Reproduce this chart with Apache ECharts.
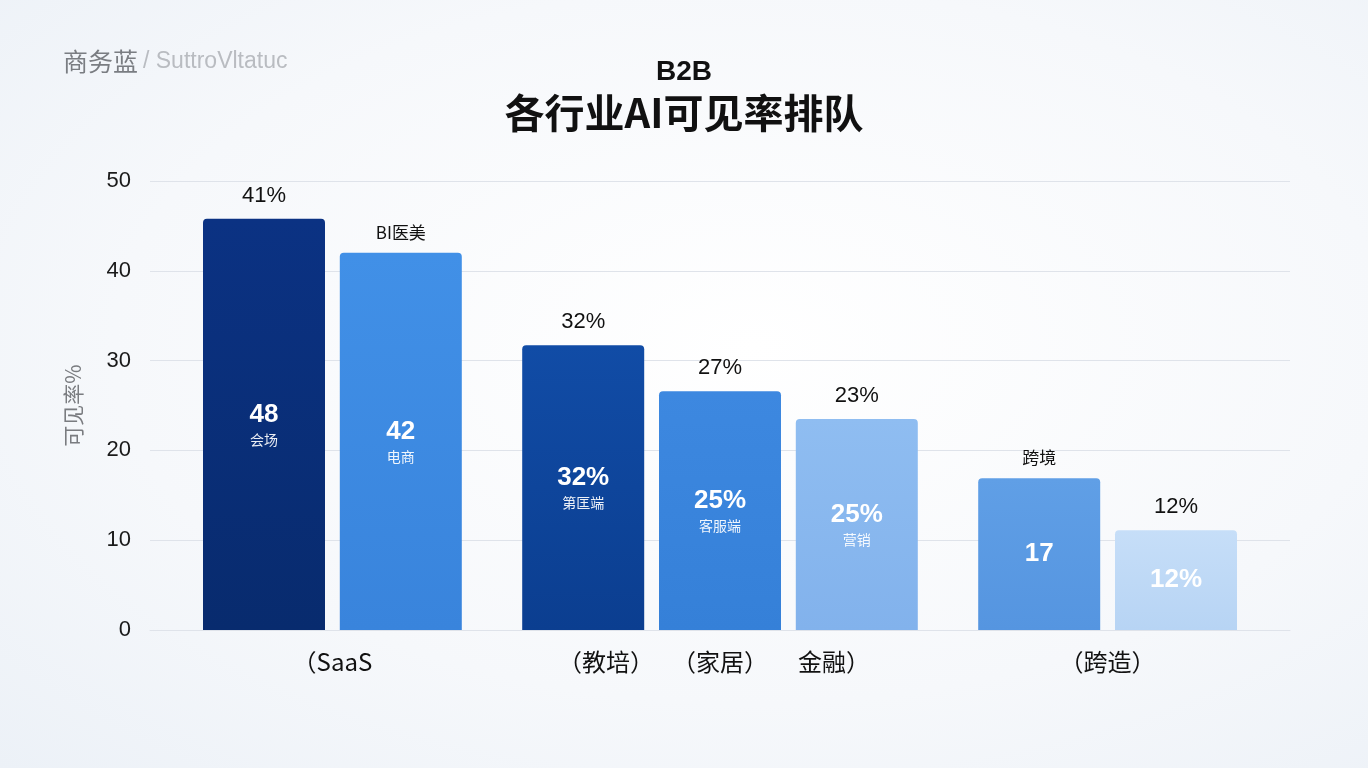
<!DOCTYPE html>
<html lang="zh">

<head>
    <meta charset="UTF-8">
    <meta name="viewport" content="width=device-width, initial-scale=1.0">
    <title>B2B 各行业AI可见率排队</title>
    <script src="https://cdn.jsdelivr.net/npm/echarts@6.0.0/dist/echarts.min.js"></script>
    <style>
        html, body {
            margin: 0;
            padding: 0;
            width: 100%;
            height: 100%;
            background: radial-gradient(ellipse at 55% 45%, #ffffff 0%, #f6f8fb 60%, #ecf1f7 100%);
        }
        #viz {
            width: 1368px;
            height: 768px;
        }
    </style>
</head>

<body>
    <div id="viz"></div>

    <script>
        // values
        const values = [45.8, 42.0, 31.7, 26.6, 23.5, 16.9, 11.1];
        const topLabels = ['41%', 'BI医美', '32%', '27%', '23%', '跨境', '12%'];
        const innerValues = ['48', '42', '32%', '25%', '25%', '17', '12%'];
        const innerNames = ['会场', '电商', '第匡端', '客服端', '营销', '', ''];
        const barColors = [
            ['#0b3283', '#082b6e'],
            ['#4190e7', '#3984dc'],
            ['#114ca6', '#0b3e90'],
            ['#3d88e0', '#3580d8'],
            ['#8fbdf1', '#82b2ec'],
            ['#609fe6', '#5595e0'],
            ['#c6def8', '#b7d4f4']
        ];
        // slot layout on the category axis (25 slots, gaps between groups)
        const slotCount = 25;
        const barSlots = [2, 5, 9, 12, 15, 19, 22];
        // group labels on a finer axis (51 ticks, boundaryGap false)
        const groupLabels = ['（SaaS', '（教培）', '（家居）', '金融）', '（跨造）'];
        const groupTicks = [8, 20, 25, 30, 42];
        const groupTickCount = 51;
        const yTicks = { min: 0, max: 50, interval: 10 };

        const getEle = id => document.getElementById(id);
        const latin = "'Liberation Sans', 'Noto Sans CJK SC', sans-serif";
        const cjk = "'Noto Sans CJK SC', 'Liberation Sans', sans-serif";

        const buildSlots = () => {
            const cats = [];
            for (let i = 0; i < slotCount; i++) cats.push('s' + i);
            return cats;
        };

        const buildGroupAxis = () => {
            const cats = new Array(groupTickCount).fill('');
            groupTicks.forEach((t, i) => { cats[t] = groupLabels[i]; });
            return cats;
        };

        const buildBars = () => {
            const data = new Array(slotCount).fill('-');
            barSlots.forEach((slot, i) => {
                const small = /[^\x00-\x7f]/.test(topLabels[i]);
                data[slot] = {
                    value: values[i],
                    itemStyle: {
                        color: new echarts.graphic.LinearGradient(0, 0, 0, 1, [
                            { offset: 0, color: barColors[i][0] },
                            { offset: 1, color: barColors[i][1] }
                        ]),
                        borderRadius: [4, 4, 0, 0]
                    },
                    label: {
                        show: true,
                        position: 'inside',
                        formatter: innerNames[i] ? '{v|' + innerValues[i] + '}\n{n|' + innerNames[i] + '}' : '{v|' + innerValues[i] + '}',
                        rich: {
                            v: { color: '#fff', fontSize: 26, fontWeight: 'bold', fontFamily: latin, lineHeight: 30 },
                            n: { color: 'rgba(255,255,255,0.92)', fontSize: 14, fontFamily: cjk, lineHeight: 20 }
                        }
                    }
                };
                data[slot].topText = { text: topLabels[i], small };
            });
            return data;
        };

        const barData = buildBars();

        // top labels from an overlaid transparent bar series
        const topData = barData.map(d => d === '-' ? '-' : {
            value: d.value,
            itemStyle: { color: 'rgba(0,0,0,0)' },
            label: {
                show: true,
                position: 'top',
                distance: 12,
                formatter: d.topText.text,
                color: '#111',
                fontFamily: d.topText.small ? cjk : latin,
                fontSize: d.topText.small ? 17 : 22
            }
        });

        const option = {
            backgroundColor: 'transparent',
            title: [
                {
                    text: '{a|商务蓝} {b|/ SuttroVltatuc}',
                    left: 58,
                    top: 44,
                    textStyle: {
                        rich: {
                            a: { fontSize: 25, color: '#7a7d82', fontFamily: cjk, fontWeight: 'normal' },
                            b: { fontSize: 23, color: '#b9bcc1', fontFamily: latin, fontWeight: 'normal' }
                        }
                    }
                },
                {
                    text: 'B2B',
                    left: 'center',
                    top: 53,
                    textStyle: { fontSize: 28, fontWeight: 'bold', color: '#111', fontFamily: latin }
                },
                {
                    text: '各行业AI可见率排队',
                    left: 'center',
                    top: 88,
                    textStyle: { fontSize: 40, fontWeight: 'bold', color: '#111', fontFamily: cjk }
                }
            ],
            grid: { left: 150, right: 78, top: 181, bottom: 138 },
            xAxis: [
                {
                    type: 'category',
                    data: buildSlots(),
                    axisLine: { show: true, lineStyle: { color: '#dfe3ea' } },
                    axisTick: { show: false },
                    axisLabel: { show: false }
                },
                {
                    type: 'category',
                    position: 'bottom',
                    boundaryGap: false,
                    data: buildGroupAxis(),
                    axisLine: { show: false },
                    axisTick: { show: false },
                    axisLabel: {
                        interval: 0,
                        margin: 20,
                        color: '#111',
                        fontSize: 24,
                        fontFamily: cjk
                    }
                }
            ],
            yAxis: {
                type: 'value',
                min: yTicks.min,
                max: yTicks.max,
                interval: yTicks.interval,
                name: '可见率%',
                nameLocation: 'middle',
                nameRotate: 90,
                nameGap: 66,
                nameTextStyle: { color: '#7a7c80', fontSize: 21, fontFamily: cjk },
                axisLabel: { color: '#1a1a1a', fontSize: 22, fontFamily: latin, margin: 19 },
                splitLine: { lineStyle: { color: '#dfe3ea', width: 1 } },
                axisLine: { show: false },
                axisTick: { show: false }
            },
            series: [
                {
                    type: 'bar',
                    xAxisIndex: 0,
                    barWidth: 122,
                    data: barData,
                    z: 3
                },
                {
                    type: 'bar',
                    xAxisIndex: 0,
                    barWidth: 122,
                    barGap: '-100%',
                    data: topData,
                    z: 2,
                    silent: true
                }
            ]
        };

        const chart = echarts.init(getEle('viz'), null, { renderer: 'canvas' });
        chart.setOption(option);
        window.onresize = () => chart.resize();
    </script>
</body>

</html>
